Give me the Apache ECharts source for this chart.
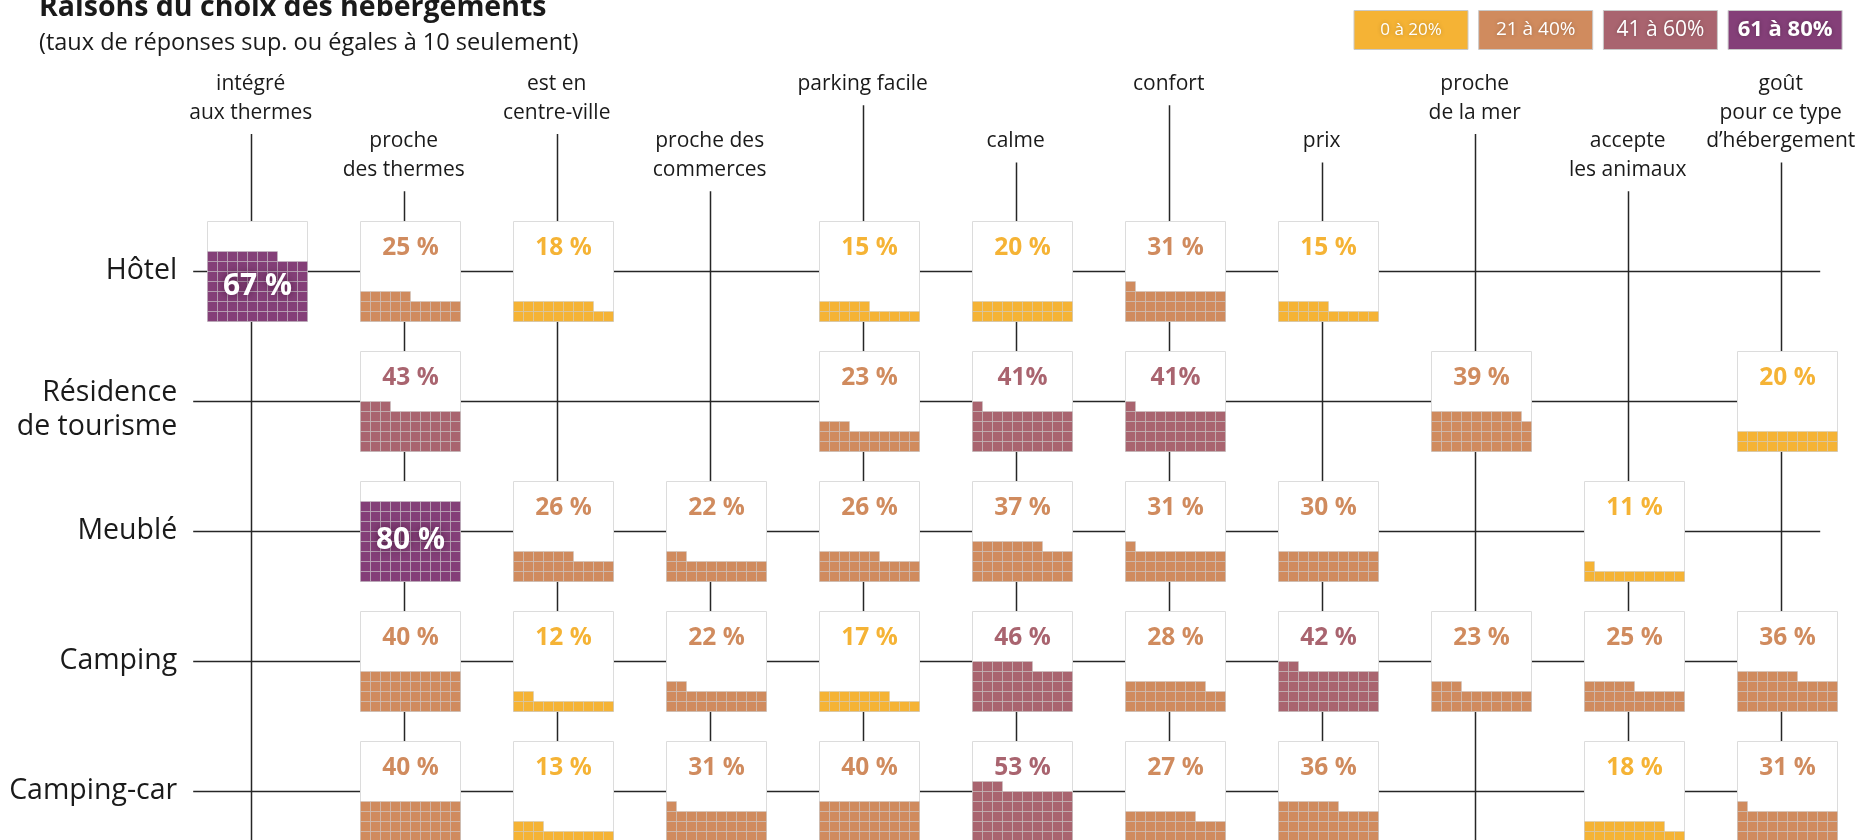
<!DOCTYPE html>
<html>
<head>
<meta charset="utf-8">
<title>Raisons du choix des hébergements</title>
<script src="https://cdn.jsdelivr.net/npm/echarts@6/dist/echarts.min.js"></script>
<style>
  html, body { margin: 0; padding: 0; background: #fff; }
  #chart { width: 1862px; height: 840px; }
</style>
</head>
<body>
<div id="chart"></div>
<script>
// raisons (colonnes) et types d'hébergement (lignes)
const reasons = [
  'intégré\naux thermes', 'proche\ndes thermes', 'est en\ncentre-ville', 'proche des\ncommerces',
  'parking facile', 'calme', 'confort', 'prix', 'proche\nde la mer', 'accepte\nles animaux',
  'goût\npour ce type\nd’hébergement'
]
const lodgings = ['Hôtel', 'Résidence\nde tourisme', 'Meublé', 'Camping', 'Camping-car']

// taux de réponses (%) par raison, null = moins de 10 %
const hotel      = [67, 25, 18, null, 15, 20, 31, 15, null, null, null]
const residence  = [null, 43, null, null, 23, 41, 41, null, 39, null, 20]
const meuble     = [null, 80, 26, 22, 26, 37, 31, 30, null, 11, null]
const camping    = [null, 40, 12, 22, 17, 46, 28, 42, 23, 25, 36]
const campingCar = [null, 40, 13, 31, 40, 53, 27, 36, null, 18, 31]
const rowValues = [hotel, residence, meuble, camping, campingCar]

// cases écrites sans espace avant le % dans l'original [ligne, colonne]
const tightLabels = [[1, 5], [1, 6]]

// classes de la légende
const rangeLabels = ['0 à 20%', '21 à 40%', '41 à 60%', '61 à 80%']
const rangeMax = [20, 40, 60, 80]
const rangeColors = ['#F5B335', '#D08B5E', '#A9646F', '#843F78']

const FONT = '"Open Sans", "Noto Sans", sans-serif'
const HEAD_TOP = 70
const HEAD_LH = 28.7
const LINE_COLOR = '#262626'

const colorOf = v => {
  for (let i = 0; i < rangeMax.length; i++) {
    if (v <= rangeMax[i]) return rangeColors[i]
  }
  return rangeColors[rangeColors.length - 1]
}

// data for the waffles
const waffleData = []
rowValues.forEach((arr, r) => {
  arr.forEach((v, c) => {
    if (v != null) waffleData.push([c, r, v])
  })
})

const renderWaffle = (params, api) => {
  const c = api.value(0)
  const r = api.value(1)
  const v = api.value(2)
  const pt = api.coord([c, r])
  const left = Math.round(pt[0] - 44) + 0.5
  const top = Math.round(pt[1] - 50) + 0.5
  const size = 100
  const cell = 10
  const color = colorOf(v)
  const children = [{
    type: 'rect',
    shape: { x: left, y: top, width: size, height: size },
    style: { fill: '#fff', stroke: '#dcdcdc', lineWidth: 1 }
  }]
  for (let k = 0; k < v; k++) {
    const row = Math.floor(k / 10)
    const col = k % 10
    children.push({
      type: 'rect',
      shape: { x: left + col * cell, y: top + size - (row + 1) * cell, width: cell, height: cell },
      style: { fill: color, stroke: 'rgba(200,200,200,0.45)', lineWidth: 1 }
    })
  }
  const tight = tightLabels.some(t => t[0] === r && t[1] === c)
  const txt = v + (tight ? '%' : ' %')
  if (v > 60) {
    children.push({
      type: 'text',
      style: {
        text: txt, x: left + size / 2, y: top + size - v / 2 - 1.5,
        align: 'center', verticalAlign: 'middle',
        font: 'bold 30px ' + FONT, fill: '#fff',
        textShadowColor: 'rgba(40,0,30,0.6)', textShadowBlur: 8
      }
    })
  } else {
    children.push({
      type: 'text',
      style: {
        text: txt, x: left + size / 2, y: top + 26.5,
        align: 'center', verticalAlign: 'middle',
        font: 'bold 24.5px ' + FONT, fill: color
      }
    })
  }
  return { type: 'group', children: children }
}

const renderVLine = (params, api) => {
  const c = api.value(0)
  const x = Math.round(api.coord([c, 0])[0]) + 0.5
  const lines = reasons[c].split('\n').length + (c % 2 ? 2 : 0)
  const y0 = HEAD_TOP + lines * HEAD_LH + 6.5
  return {
    type: 'line',
    shape: { x1: x, y1: y0, x2: x, y2: 900 },
    style: { stroke: LINE_COLOR, lineWidth: 1.5 }
  }
}

const renderHLine = (params, api) => {
  const r = api.value(1)
  const first = api.coord([0, r])
  const last = api.coord([reasons.length - 1, r])
  const y = Math.round(first[1]) + 0.5
  return {
    type: 'line',
    shape: { x1: first[0] - 57.5, y1: y, x2: last[0] + 39.5, y2: y },
    style: { stroke: LINE_COLOR, lineWidth: 1.5 }
  }
}

// légende en haut à droite
const legendGraphics = []
rangeLabels.forEach((lab, i) => {
  const x = 1354 + i * 124.7
  legendGraphics.push({
    type: 'rect',
    shape: { x: x, y: 10.5, width: 114, height: 39 },
    style: { fill: rangeColors[i], stroke: '#c9c9c9', lineWidth: 1 }
  })
  legendGraphics.push({
    type: 'text',
    style: {
      text: lab, x: x + 57, y: 30,
      align: 'center', verticalAlign: 'middle',
      font: (i === 3 ? 'bold 22px ' : (17 + i * 2) + 'px ') + FONT,
      fill: '#fff', textShadowColor: 'rgba(0,0,0,0.25)', textShadowBlur: 4
    }
  })
})

const myChart = echarts.init(document.getElementById('chart'))
const option = {
  animation: false,
  backgroundColor: '#fff',
  textStyle: { fontFamily: FONT },
  graphic: [
    {
      type: 'text',
      style: {
        text: 'Raisons du choix des hébergements', x: 39, y: 8,
        verticalAlign: 'middle', font: 'bold 28.5px ' + FONT, fill: '#1a1a1a'
      }
    },
    {
      type: 'text',
      style: {
        text: '(taux de réponses sup. ou égales à 10 seulement)', x: 39, y: 43,
        verticalAlign: 'middle', font: '23.5px ' + FONT, fill: '#1a1a1a'
      }
    }
  ].concat(legendGraphics),
  grid: {
    left: 174.2,
    top: 205.7,
    width: 1683,
    height: 650,
    outerBoundsMode: 'none'
  },
  xAxis: {
    type: 'category',
    data: reasons,
    position: 'top',
    axisLine: { show: false },
    axisTick: { show: false },
    splitLine: { show: false },
    axisLabel: {
      interval: 0,
      margin: 136,
      verticalAlign: 'top',
      fontSize: 21,
      lineHeight: HEAD_LH,
      color: '#1a1a1a',
      formatter: (v, i) => (i % 2 ? '\n\n' + v : v)
    }
  },
  yAxis: {
    type: 'category',
    data: lodgings,
    inverse: true,
    axisLine: { show: false },
    axisTick: { show: false },
    splitLine: { show: false },
    axisLabel: {
      margin: -3,
      fontSize: 28.5,
      lineHeight: 34,
      color: '#1a1a1a',
      // les libellés sur deux lignes sont un peu plus bas que la ligne
      formatter: v => (v.indexOf('\n') >= 0 ? '{gap| }\n' + v : v),
      rich: {
        gap: { fontSize: 8, lineHeight: 18 }
      }
    }
  },
  series: [
    {
      type: 'custom',
      name: 'hlines',
      z: 1,
      silent: true,
      encode: { x: 0, y: 1 },
      data: lodgings.map((d, i) => [0, i]),
      renderItem: renderHLine
    },
    {
      type: 'custom',
      name: 'vlines',
      z: 1,
      silent: true,
      encode: { x: 0, y: 1 },
      data: reasons.map((d, i) => [i, 0]),
      renderItem: renderVLine
    },
    {
      type: 'custom',
      name: 'waffles',
      z: 2,
      encode: { x: 0, y: 1 },
      data: waffleData,
      renderItem: renderWaffle
    }
  ]
}
myChart.setOption(option)
</script>
</body>
</html>
